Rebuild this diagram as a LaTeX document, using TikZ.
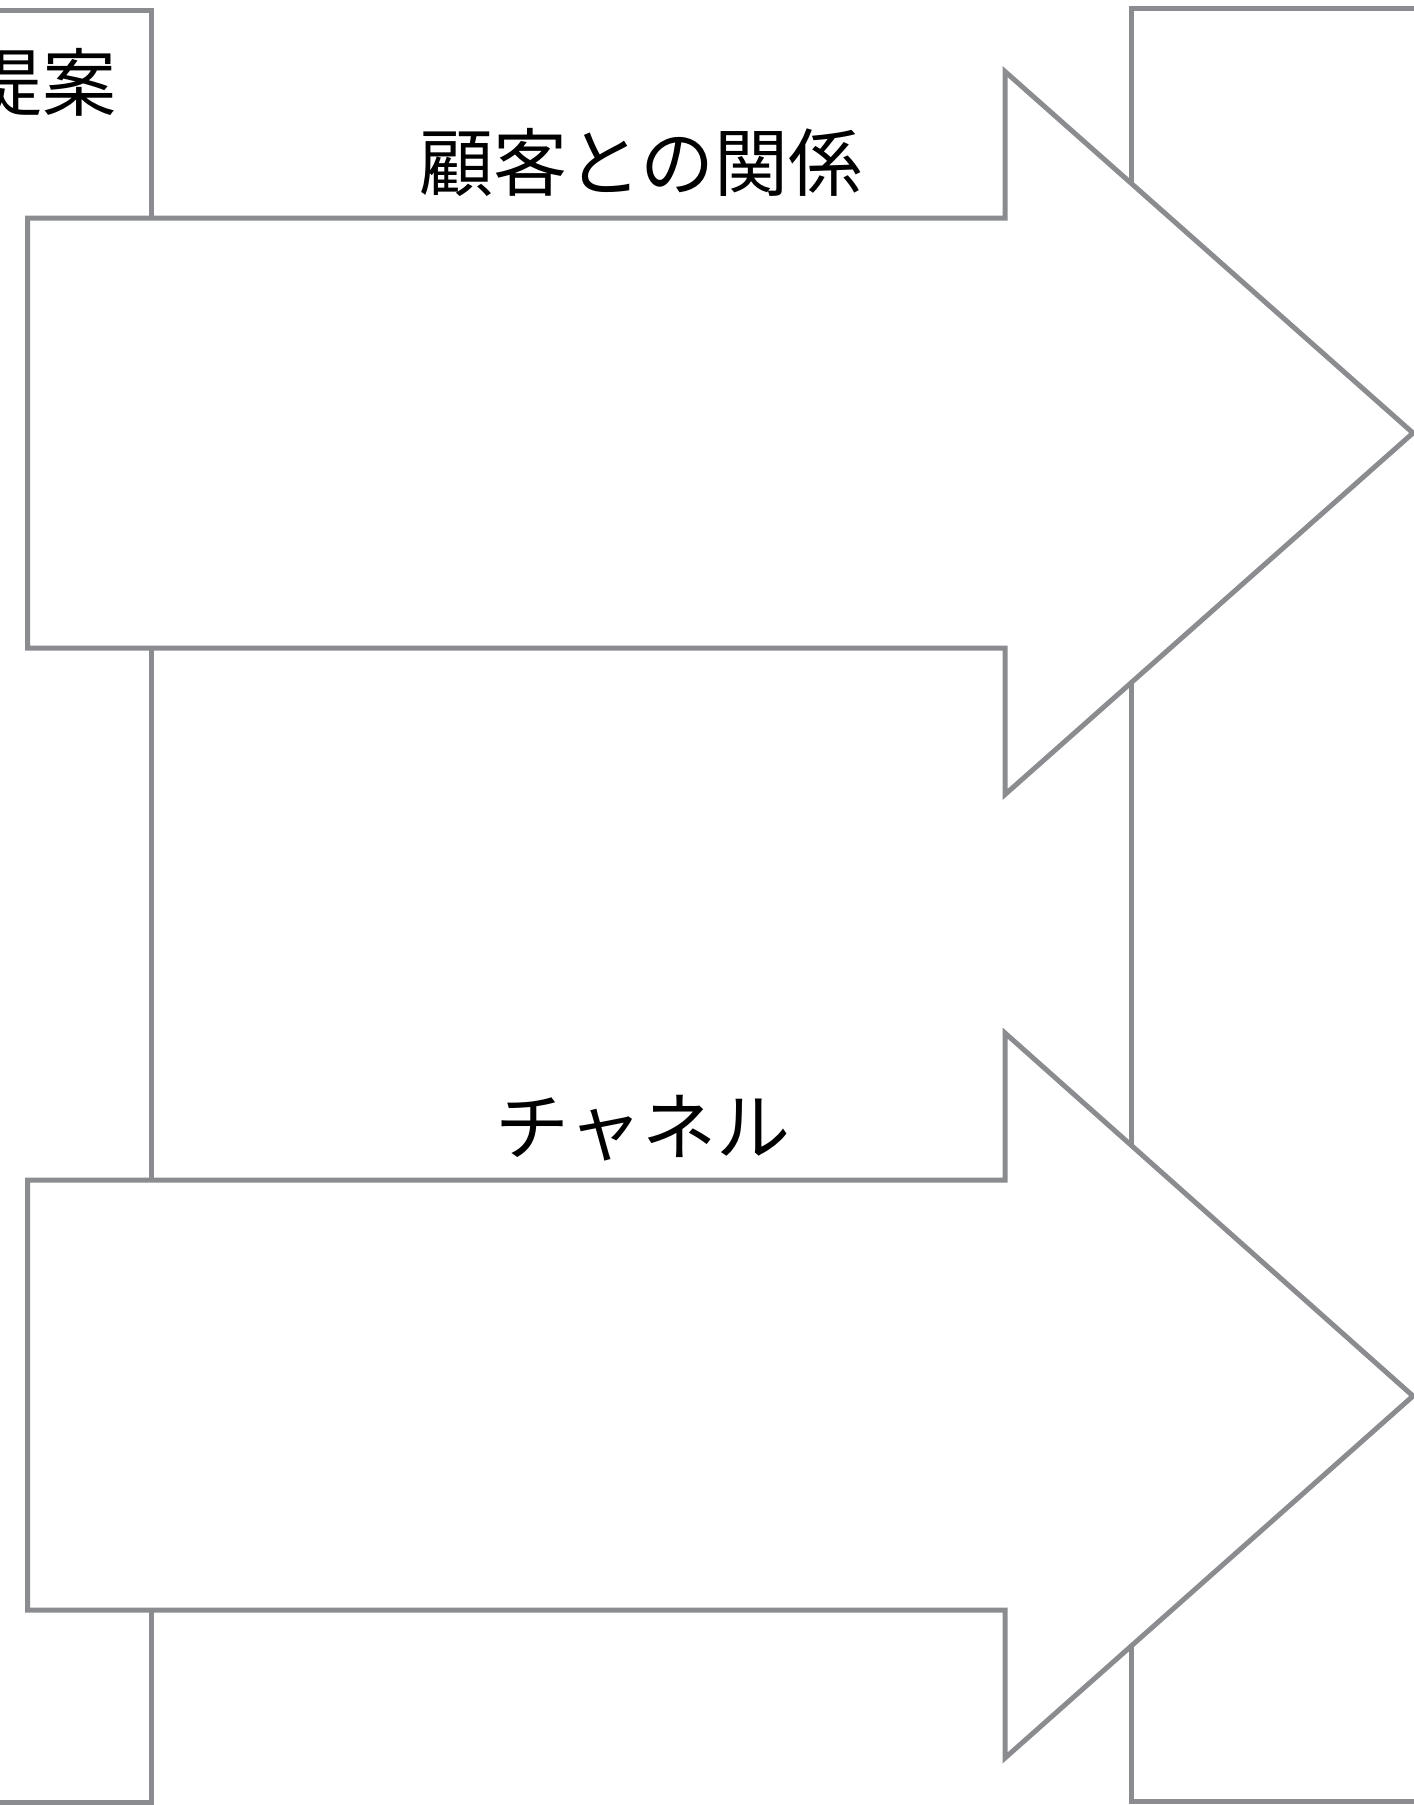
\documentclass[tikz,border=0pt]{standalone}
\usepackage{fontspec}
\setmainfont{Noto Sans CJK JP}
\usepackage{tikz}
\usetikzlibrary{positioning}
\definecolor{framegray}{RGB}{138,140,144}

\begin{document}
\begin{tikzpicture}
    [x=1pt,y=-1pt,
     block/.style={draw=framegray,line width=5pt,line join=miter},
     bigarrow/.style={block,fill=white},
     caption/.style={font=\fontsize{74}{80}\selectfont,inner sep=0pt}]
    \useasboundingbox (0,0) rectangle (1414,1805);
    \clip (0,0) rectangle (1414,1805);
    % Left column
    \draw [block] (-20,10) -- (151,10) -- (151,1802) -- (-20,1802);
    \node [caption,anchor=east] (value) at (117,82) {提案};
    % Right column
    \draw [block] (1440,8.5) -- (1131,8.5) -- (1131,1801) -- (1440,1801);
    % Upper arrow
    \draw [bigarrow] (27.5,218) -- (1005,218) -- (1005,71.5) -- (1413,433)
        -- (1005,794.5) -- (1005,648) -- (27.5,648) -- cycle;
    \node [caption] (relation) at (641,162) {顧客との関係};
    % Lower arrow
    \draw [bigarrow] (27.5,1180) -- (1005,1180) -- (1005,1033) -- (1413,1396)
        -- (1005,1758) -- (1005,1610) -- (27.5,1610) -- cycle;
    \node [caption] (channel) at (643,1128) {チャネル};
\end{tikzpicture}
\end{document}
